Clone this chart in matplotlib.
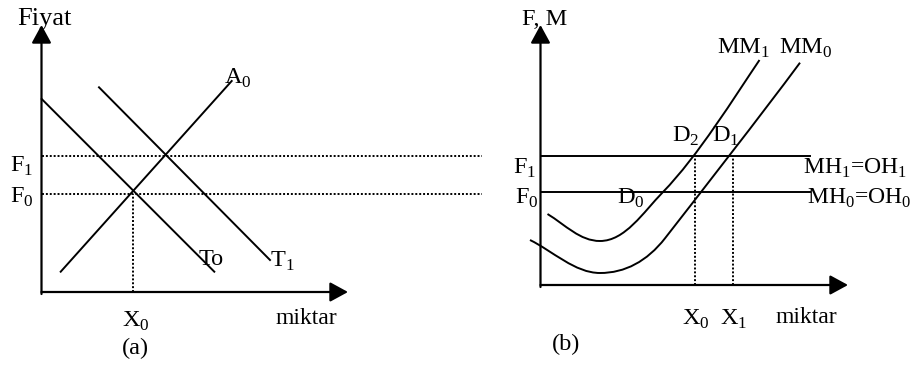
import matplotlib.pyplot as plt
from matplotlib.path import Path
from matplotlib.patches import PathPatch

plt.rcParams['font.family'] = ['Liberation Serif', 'DejaVu Serif']
plt.rcParams['mathtext.fontset'] = 'custom'
plt.rcParams['mathtext.rm'] = 'Liberation Serif'
plt.rcParams['font.size'] = 17.5

# ---- panel (a): supply / demand lines (units ~ px from origin)
to_x, to_y = [0.2, 172.8], [193, 20.3]
t1_x, t1_y = [57.5, 228.5], [204.7, 32]
a0_x, a0_y = [19.2, 190.2], [20.3, 211]
f1_a, f0_a = 136, 97.7
x0_a = 91.8
dot_end_a = 440.5

# ---- panel (b): cost curves as bezier control points
mm1_pts = [(7, 71), (25, 60), (39.5, 44), (59.5, 44),
           (84.5, 44), (102.5, 72.4), (122.5, 93),
           (157.5, 129), (194, 188), (219, 225)]
mm0_pts = [(-10.5, 45), (12, 34), (34.5, 12), (59.5, 12),
           (84.5, 12), (106.5, 23.7), (124.5, 46.7),
           (159.5, 91.7), (219.5, 168.3), (259.5, 222.3)]
mh1_b, mh0_b = 129, 93
mh_end = 269.5
x0_b, x1_b = 154.5, 192.5

fig = plt.figure(figsize=(9.13, 3.65), dpi=100)
axa = fig.add_axes([0, 0, 460 / 913, 1])
axb = fig.add_axes([460 / 913, 0, 453 / 913, 1])
axa.set_xlim(-41.5, 418.5)
axa.set_ylim(-73, 292)
axb.set_xlim(-80.5, 372.5)
axb.set_ylim(-80, 285)
for ax in (axa, axb):
    ax.axis('off')

arrow = dict(arrowstyle='-|>,head_length=1.1,head_width=0.6', lw=1.6,
             color='black', shrinkA=0, shrinkB=0, mutation_scale=10)
dots = dict(color='black', lw=1.4, linestyle=(0, (1, 1)), clip_on=False)
solid = dict(color='black', lw=1.4)


def axes_arrows(ax, xtip, ytip):
    ax.annotate('', xy=(xtip, 0), xytext=(0, 0), arrowprops=arrow)
    ax.annotate('', xy=(0, ytip), xytext=(0, -2), arrowprops=arrow)


# panel (a)
axes_arrows(axa, 306.5, 267)
axa.plot(to_x, to_y, **solid)
axa.plot(t1_x, t1_y, **solid)
axa.plot(a0_x, a0_y, **solid)
axa.plot([0, dot_end_a], [f1_a, f1_a], **dots)
axa.plot([0, dot_end_a], [f0_a, f0_a], **dots)
axa.plot([x0_a, x0_a], [0, f0_a], **dots)

axa.text(2.5, 267, 'Fiyat', ha='center', va='baseline', fontsize=19)
axa.text(182.5, 208.7, r'A$_0$', ha='left', va='baseline')
axa.text(-31.5, 120.3, r'F$_1$', ha='left', va='baseline')
axa.text(-31.5, 89, r'F$_0$', ha='left', va='baseline')
axa.text(156.8, 27, 'To', ha='left', va='baseline')
axa.text(228.5, 25.3, r'T$_1$', ha='left', va='baseline')
axa.text(80.2, -34.7, r'X$_0$', ha='left', va='baseline')
axa.text(233.5, -32.3, 'miktar', ha='left', va='baseline', fontsize=17)
axa.text(93.5, -62.3, '(a)', ha='center', va='baseline')

# panel (b)
axes_arrows(axb, 307.5, 260)
codes = [Path.MOVETO] + [Path.CURVE4] * 9
axb.add_patch(PathPatch(Path(mm1_pts, codes), fill=False, **solid))
axb.add_patch(PathPatch(Path(mm0_pts, codes), fill=False, **solid))
axb.plot([0, mh_end], [mh1_b, mh1_b], **solid)
axb.plot([0, mh_end], [mh0_b, mh0_b], **solid)
axb.plot([x0_b, x0_b], [0, mh1_b], **dots)
axb.plot([x1_b, x1_b], [0, mh1_b], **dots)

axb.text(4.2, 260, 'F, M', ha='center', va='baseline')
axb.text(176.2, 231.7, r'MM$_1$', ha='left', va='baseline')
axb.text(238.8, 231.7, r'MM$_0$', ha='left', va='baseline')
axb.text(131.2, 143.3, r'D$_2$', ha='left', va='baseline')
axb.text(171.2, 143.3, r'D$_1$', ha='left', va='baseline')
axb.text(-27.2, 111.7, r'F$_1$', ha='left', va='baseline')
axb.text(-25.5, 81.7, r'F$_0$', ha='left', va='baseline')
axb.text(76.2, 81.7, r'D$_0$', ha='left', va='baseline')
axb.text(262.8, 111.7, r'MH$_1$=OH$_1$', ha='left', va='baseline',
         fontsize=17)
axb.text(266.5, 81.7, r'MH$_0$=OH$_0$', ha='left', va='baseline',
         fontsize=17)
axb.text(141.2, -40, r'X$_0$', ha='left', va='baseline')
axb.text(179.5, -40, r'X$_1$', ha='left', va='baseline')
axb.text(234.5, -38.3, 'miktar', ha='left', va='baseline', fontsize=17)
axb.text(11.2, -65, '(b)', ha='left', va='baseline')

fig.savefig('out.png', dpi=100)
